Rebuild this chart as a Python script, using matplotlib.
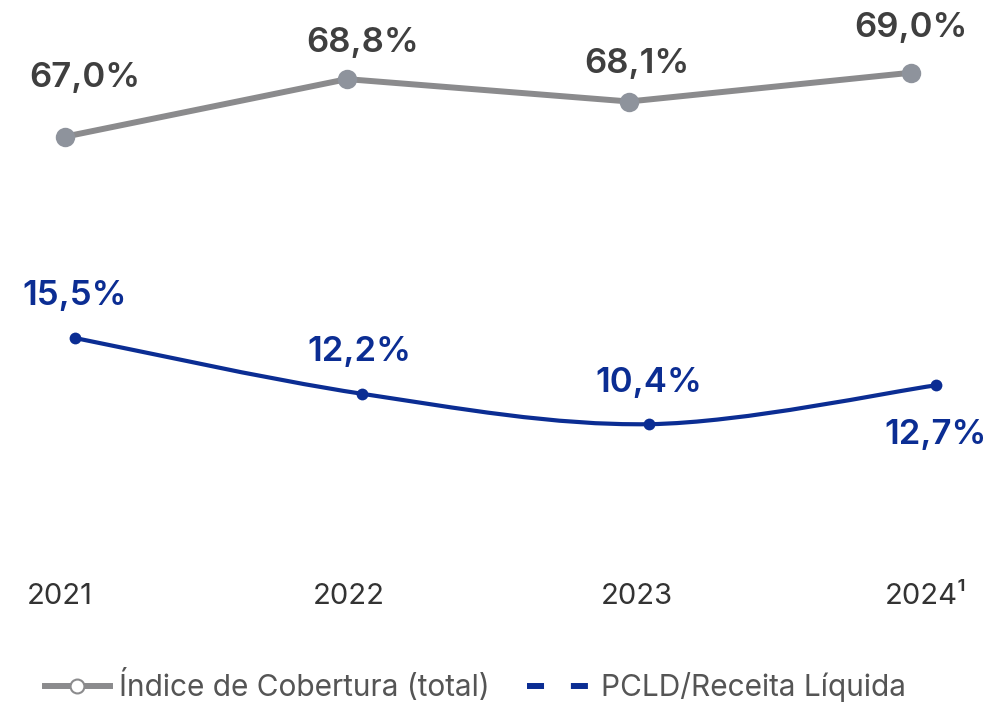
import matplotlib
matplotlib.use("Agg")
import matplotlib.pyplot as plt
from matplotlib.path import Path
from matplotlib.patches import PathPatch
from matplotlib.lines import Line2D
import numpy as np

years = ["2021", "2022", "2023", "2024\u00b9"]
cobertura = [67.0, 68.8, 68.1, 69.0]
pcld = [15.5, 12.2, 10.4, 12.7]
cobertura_labels = ["67,0%", "68,8%", "68,1%", "69,0%"]
pcld_labels = ["15,5%", "12,2%", "10,4%", "12,7%"]

GRAY = "#8b8b8d"
GRAY_MK = "#8e939c"
BLUE = "#0b2d93"
TXT_GRAY = "#3f3f3f"

plt.rcParams['font.family'] = ['Inter', 'DejaVu Sans']

fig = plt.figure(figsize=(9.92, 7.02), dpi=100)

W, H = 992, 702

def make_ax(x0, dx, y_top, y_bot):
    ax = fig.add_axes([0, 0, 1, 1], facecolor='none')
    ax.set_xlim(-x0 / dx, (W - x0) / dx)
    ax.set_ylim(y_bot, y_top)
    ax.axis('off')
    return ax

# gray series axis
axg = make_ax(65, 282, 71.274, 49.323)
# blue series axis
axb = make_ax(75, 287, 15.5 + 338 / 16.9, 15.5 - (H - 338) / 16.9)
# year label axis
axy = make_ax(60, 288.6, 1, 0)

xg = np.arange(len(cobertura))
axg.plot(xg, cobertura, color=GRAY, lw=4.3, solid_capstyle='round', zorder=2)
axg.plot(xg, cobertura, 'o', color=GRAY_MK, ms=14, mew=0, zorder=3)
g_off = [(14, 42), (11, 26), (6, 27), (0, 32)]
for x, v, lab, off in zip(xg, cobertura, cobertura_labels, g_off):
    axg.annotate(lab, (x, v), xytext=off, textcoords='offset points',
                 ha='center', va='center', fontsize=25, fontweight='semibold',
                 color=TXT_GRAY)

# blue smooth curve (Catmull-Rom -> cubic Bezier)
xb = np.arange(len(pcld), dtype=float)
yb = np.array(pcld, dtype=float)
pts = np.column_stack([xb, yb])
verts = [pts[0]]
codes = [Path.MOVETO]
n = len(pts)
for i in range(n - 1):
    p0 = pts[i - 1] if i > 0 else pts[i]
    p1 = pts[i]
    p2 = pts[i + 1]
    p3 = pts[i + 2] if i + 2 < n else pts[i + 1]
    c1 = p1 + (p2 - p0) / 6
    c2 = p2 - (p3 - p1) / 6
    verts += [c1, c2, p2]
    codes += [Path.CURVE4] * 3
axb.add_patch(PathPatch(Path(verts, codes), facecolor='none', edgecolor=BLUE,
                        lw=3.0, capstyle='round', zorder=2))
axb.plot(xb, yb, 'o', color=BLUE, ms=8.5, mew=0, zorder=3)
b_off = [(0, 30), (-2, 30), (0, 30), (0, -36)]
for x, v, lab, off in zip(xb, yb, pcld_labels, b_off):
    axb.annotate(lab, (x, v), xytext=off, textcoords='offset points',
                 ha='center', va='center', fontsize=25, fontweight='semibold',
                 color=BLUE)

# year labels
for i, y in enumerate(years):
    axy.text(i, 1 - 597 / H, y, ha='center', va='center', fontsize=21,
             color="#333333")

# legend
handles = [
    Line2D([], [], color=GRAY, lw=4.3, marker='o', markersize=10,
           markerfacecolor='white', markeredgecolor=GRAY, markeredgewidth=1.5),
    Line2D([], [], color=BLUE, lw=4.3, linestyle=(0, (2.85, 4.5))),
]
fig.legend(handles, ["Índice de Cobertura (total)", "PCLD/Receita Líquida"],
           loc='center left', bbox_to_anchor=(18 / W, 1 - 686 / H), ncol=2,
           frameon=False, fontsize=21.5, labelcolor="#555555",
           handlelength=2.17, handletextpad=0.3, columnspacing=1.27)

fig.savefig("out.png", dpi=100)
